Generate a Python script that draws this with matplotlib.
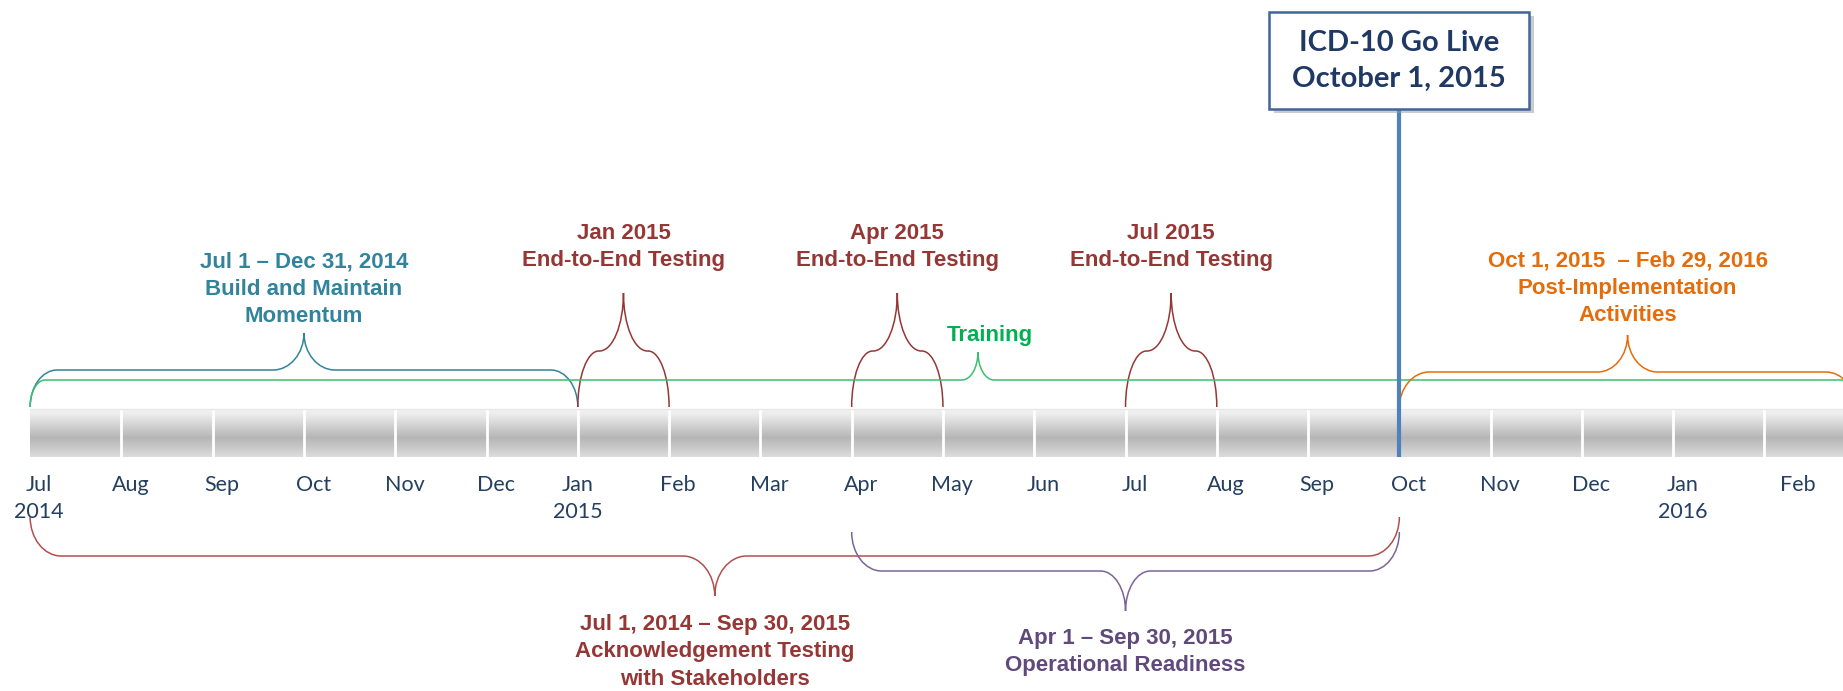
import numpy as np
import matplotlib
matplotlib.use('Agg')
from matplotlib import pyplot as plt
from matplotlib.path import Path
from matplotlib.patches import PathPatch, Rectangle
import matplotlib.patheffects as pe

# timeline: one unit = one month, 0 = Jul 1, 2014
month_names = ['Jul', 'Aug', 'Sep', 'Oct', 'Nov', 'Dec', 'Jan', 'Feb', 'Mar', 'Apr',
               'May', 'Jun', 'Jul', 'Aug', 'Sep', 'Oct', 'Nov', 'Dec', 'Jan', 'Feb']
year_names = {0: '2014', 6: '2015', 18: '2016'}
go_live = 15
go_live_text = 'ICD-10 Go Live\nOctober 1, 2015'

# phases above the timeline
above_labels = ['Jul 1 – Dec 31, 2014\nBuild and Maintain\nMomentum',
                'Jan 2015\nEnd-to-End Testing',
                'Apr 2015\nEnd-to-End Testing',
                'Jul 2015\nEnd-to-End Testing',
                'Training',
                'Oct 1, 2015  – Feb 29, 2016\nPost-Implementation\nActivities']
above_start = [0, 6, 9, 12, 0, 15]
above_end = [6, 7, 10, 13, 20, 20]

# phases below the timeline
below_labels = ['Jul 1, 2014 – Sep 30, 2015\nAcknowledgement Testing\nwith Stakeholders',
                'Apr 1 – Sep 30, 2015\nOperational Readiness']
below_start = [0, 9]
below_end = [15, 15]

# styles / layout (pixels on the y axis)
teal, red, green, orange, purple = '#31849b', '#953735', '#00b050', '#e46c0a', '#604a7b'
above_colors = [teal, red, red, red, green, orange]
above_line_colors = [teal, red, red, red, '#3cbf6c', orange]
# base y, shoulder y, tip y, corner radius px, tip radius px, tip shift px, text y
above_geom = [(407, 370, 333, 27, 31, 0, 289),
              (407, 351, 293, 21, 24, 0, 247),
              (407, 351, 293, 21, 24, 0, 247),
              (407, 351, 293, 21, 24, 0, 247),
              (407, 380, 352, 15, 16, 35, 335),
              (408, 372, 335, 30, 30, 0, 288)]
below_colors = [red, purple]
below_line_colors = ['#b0504d', '#7a6498']
below_geom = [(517, 556, 596, 31, 32, 0, 652),
              (532, 571, 611, 30, 25, 0, 652)]

W, H = 1843, 691
x_lo, x_hi = -0.33, 19.86
ppm = W / (x_hi - x_lo)  # pixels per month

fig = plt.figure(figsize=(W / 100, H / 100), dpi=100)
ax = fig.add_axes([0, 0, 1, 1])
ax.set_xlim(x_lo, x_hi)
ax.set_ylim(H, 0)
ax.axis('off')


def brace(x0, x1, xt, yb, ym, yt, rc, rt, color):
    k = 0.5523
    rc = rc / ppm
    rt = rt / ppm
    verts = [(x0, yb),
             (x0, yb + k * (ym - yb)), (x0 + rc * (1 - k), ym), (x0 + rc, ym),
             (xt - rt, ym),
             (xt - rt * (1 - k), ym), (xt, yt - k * (yt - ym)), (xt, yt),
             (xt, yt - k * (yt - ym)), (xt + rt * (1 - k), ym), (xt + rt, ym),
             (x1 - rc, ym),
             (x1 - rc * (1 - k), ym), (x1, yb + k * (ym - yb)), (x1, yb)]
    codes = [Path.MOVETO] + [Path.CURVE4] * 3 + [Path.LINETO] + [Path.CURVE4] * 6 + \
            [Path.LINETO] + [Path.CURVE4] * 3
    ax.add_patch(PathPatch(Path(verts, codes), fill=False, ec=color, lw=1.1,
                           capstyle='butt', zorder=2))


# gray band
band_top, band_bot = 409, 457
t = np.linspace(0, 1, 100)
shade = np.interp(t, [0, 0.12, 0.6, 1], [0.95, 0.92, 0.71, 0.86])
grad = np.repeat(shade[:, None], 2, axis=1)
ax.imshow(grad, cmap='gray', vmin=0, vmax=1, aspect='auto', interpolation='bilinear',
          extent=(0, len(month_names), band_bot, band_top), zorder=1)
ax.vlines(np.arange(1, len(month_names)), band_top, band_bot, color='white', lw=2, zorder=1.5)
ax.hlines(band_top, 0, len(month_names), color='#e8e8e8', lw=1, zorder=1.5)

# month labels
nudge = {6: 0.0, 19: 0.36}
for i, m in enumerate(month_names):
    xl = i + nudge.get(i, 0.1)
    ax.text(xl, 485, m, ha='center', va='center', fontsize=15.5,
            family='Lato', color='#243f60')
    if i in year_names:
        ax.text(xl, 512, year_names[i], ha='center', va='center', fontsize=15.5,
                family='Lato', color='#243f60')

# braces above
for lab, s, e, c, lc, g in zip(above_labels, above_start, above_end,
                               above_colors, above_line_colors, above_geom):
    yb, ym, yt, rc, rt, shift, ty = g
    xt = (s + e) / 2 + shift / ppm
    brace(s, e, xt, yb, ym, yt, rc, rt, lc)
    tx = xt + (12 / ppm if lab == 'Training' else 0)
    ax.text(tx, ty, lab, ha='center', va='center', fontsize=16, fontweight='bold',
            family='Liberation Sans', color=c, linespacing=1.38)

# braces below
for lab, s, e, c, lc, g in zip(below_labels, below_start, below_end,
                               below_colors, below_line_colors, below_geom):
    yb, ym, yt, rc, rt, shift, ty = g
    xt = (s + e) / 2
    brace(s, e, xt, yb, ym, yt, rc, rt, lc)
    ax.text(xt, ty, lab, ha='center', va='center', fontsize=16, fontweight='bold',
            family='Liberation Sans', color=c, linespacing=1.38)

# go live marker
ax.vlines(go_live, 109, band_bot, color='#4f81bd', lw=3, zorder=3)
box_w = 260 / ppm
box = Rectangle((go_live - box_w / 2, 12), box_w, 97, fc='white', ec='#41659a', lw=1.8,
                zorder=4)
box.set_path_effects([pe.SimplePatchShadow(offset=(3, -3), shadow_rgbFace='#999999', alpha=0.5),
                      pe.Normal()])
ax.add_patch(box)
ax.text(go_live, 61, go_live_text, ha='center', va='center', fontsize=21, fontweight='bold',
        family='Lato', color='#1f3864', linespacing=1.5, zorder=5)

fig.savefig('out.png', dpi=100)
